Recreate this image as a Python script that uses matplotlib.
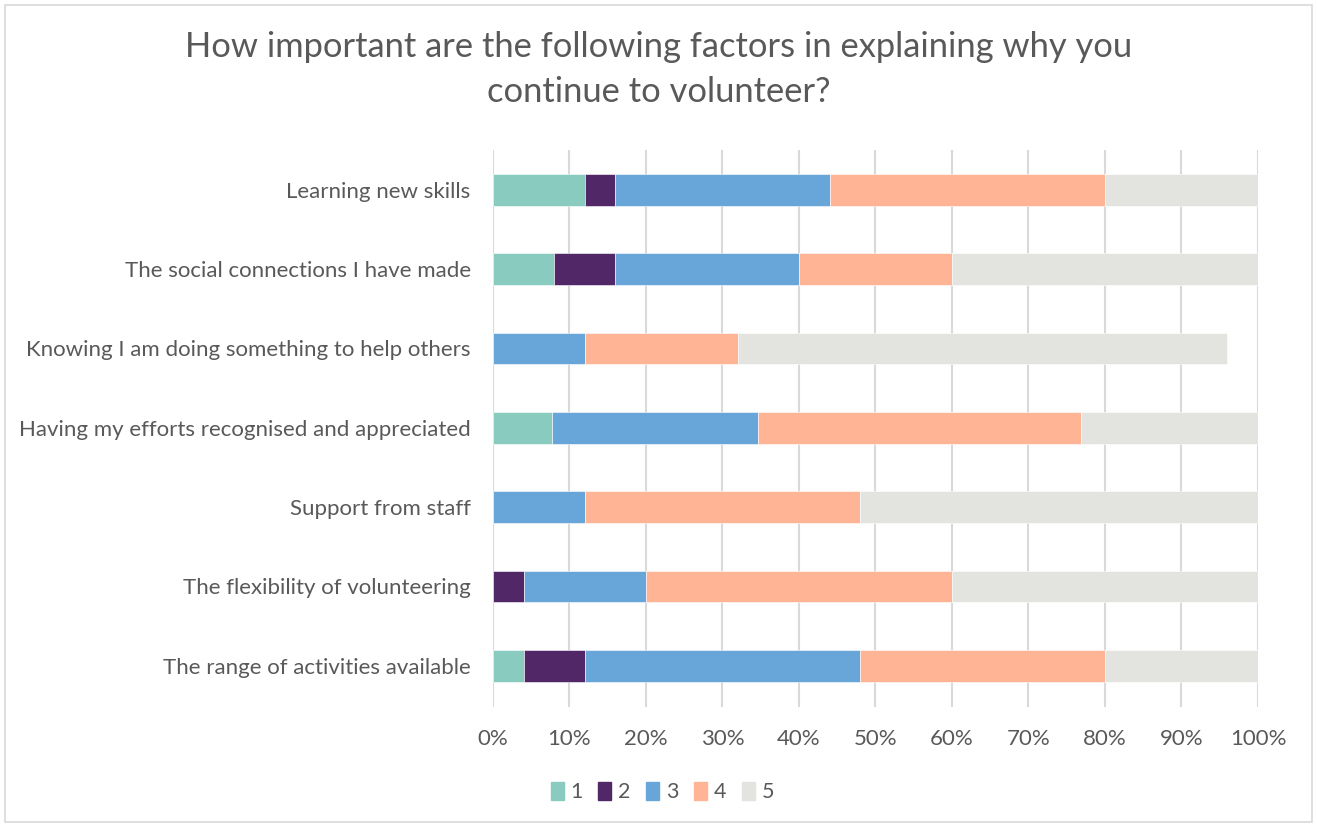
import matplotlib.pyplot as plt
import matplotlib.patches as mpatches
from matplotlib.ticker import PercentFormatter

plt.rcParams["font.family"] = ["Lato", "DejaVu Sans"]

factors = [
    "Learning new skills",
    "The social connections I have made",
    "Knowing I am doing something to help others",
    "Having my efforts recognised and appreciated",
    "Support from staff",
    "The flexibility of volunteering",
    "The range of activities available",
]
ratings = ["1", "2", "3", "4", "5"]
r1 = [12, 8, 0, 7.69, 0, 0, 4]
r2 = [4, 8, 0, 0, 0, 4, 8]
r3 = [28, 24, 12, 26.92, 12, 16, 36]
r4 = [36, 20, 20, 42.31, 36, 40, 32]
r5 = [20, 40, 64, 23.08, 52, 40, 20]
colors = ["#8ACBC0", "#512768", "#68A5D9", "#FFB496", "#E3E3E0"]
text_col = "#595959"

fig = plt.figure(figsize=(13.17, 8.27), dpi=100)
ax = fig.add_axes([0.3743, 0.1451, 0.5809, 0.6735])

ypos = list(range(len(factors) - 1, -1, -1))
left = [0.0] * len(factors)
for vals, lab, col in zip([r1, r2, r3, r4, r5], ratings, colors):
    ax.barh(ypos, vals, left=left, height=0.4, color=col, label=lab,
            edgecolor="white", linewidth=0.4, zorder=3)
    left = [a + b for a, b in zip(left, vals)]

ax.set_xlim(0, 100)
ax.set_ylim(-0.52, 6.5)
ax.set_xticks(range(0, 101, 10))
ax.xaxis.set_major_formatter(PercentFormatter(decimals=0))
ax.set_yticks(ypos)
ax.set_yticklabels(factors)
ax.grid(axis="x", color="#D9D9D9", linewidth=1.5, zorder=0)
for s in ax.spines.values():
    s.set_visible(False)
ax.tick_params(length=0, labelsize=16, colors=text_col)
ax.tick_params(axis="y", pad=16)
ax.tick_params(axis="x", pad=16)

fig.suptitle("How important are the following factors in explaining why you\n"
             "continue to volunteer?", fontsize=24.8, color=text_col,
             y=0.962, linespacing=1.5)

handles = [mpatches.Patch(color=c, label=l) for c, l in zip(colors, ratings)]
fig.legend(handles=handles, loc="center", bbox_to_anchor=(0.503, 0.042),
           ncol=5, frameon=False, fontsize=15.5, labelcolor=text_col,
           handlelength=0.6, handleheight=0.9, handletextpad=0.3,
           columnspacing=0.75)

fig.patches.append(mpatches.Rectangle((0.004, 0.006), 0.992, 0.988,
                                      transform=fig.transFigure, fill=False,
                                      edgecolor="#D9D9D9", linewidth=1.2))

fig.savefig("out.png", dpi=100)
